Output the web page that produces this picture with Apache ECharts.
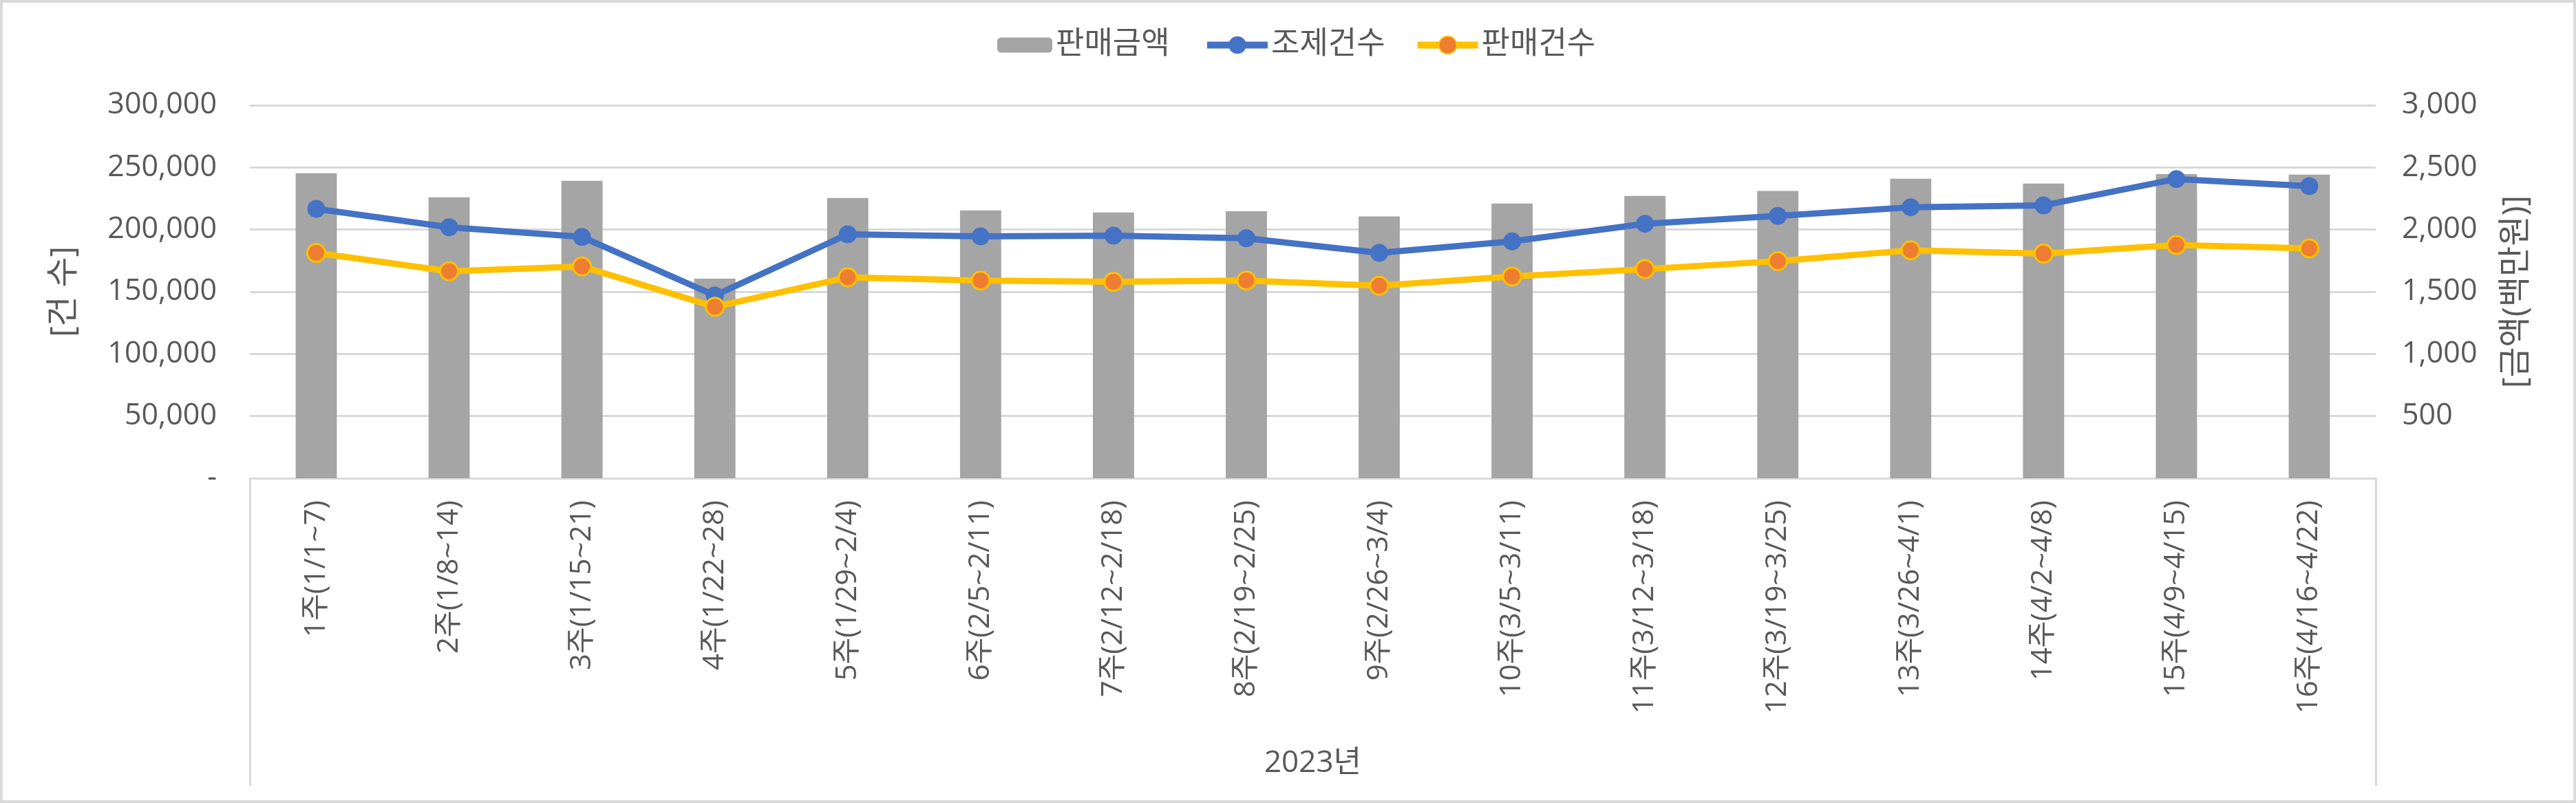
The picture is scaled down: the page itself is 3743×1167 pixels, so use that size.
<!DOCTYPE html>
<html>
<head>
<meta charset="utf-8">
<script src="https://cdn.jsdelivr.net/npm/echarts@6/dist/echarts.min.js"></script>
<style>
html,body{margin:0;padding:0;background:#fff;}
#c{width:3743px;height:1167px;box-sizing:border-box;border:4px solid #d9d9d9;}
</style>
</head>
<body>
<div id="c"></div>
<script>
const categories = ['1주(1/1~7)','2주(1/8~14)','3주(1/15~21)','4주(1/22~28)','5주(1/29~2/4)','6주(2/5~2/11)','7주(2/12~2/18)','8주(2/19~2/25)','9주(2/26~3/4)','10주(3/5~3/11)','11주(3/12~3/18)','12주(3/19~3/25)','13주(3/26~4/1)','14주(4/2~4/8)','15주(4/9~4/15)','16주(4/16~4/22)'];
const groupLabel = ['2023년'];
const salesAmount = [2454,2259,2392,1605,2254,2155,2138,2148,2106,2210,2271,2311,2409,2371,2447,2443];
const dispenseCount = [216700,201900,194100,147000,196200,194500,195100,193000,181300,190500,204700,211000,218000,219500,240700,235000];
const salesCount = [181300,166500,170300,137900,161600,159000,158000,159000,154800,162300,168200,174600,183400,180700,187700,184900];
const leftTicks = {min:0,max:300000,interval:50000};
const rightTicks = {min:0,max:3000,interval:500};

const FONT = '"Open Sans","Noto Sans CJK KR",sans-serif';
const TXT = '#595959';
const GRID = '#d9d9d9';
function fmt(v){ return v.toString().replace(/\B(?=(\d{3})+(?!\d))/g, ','); }

const legendText = {fontSize:45,color:TXT,fontFamily:FONT};
const chart = echarts.init(document.getElementById('c'));
chart.setOption({
  animation:false,
  textStyle:{fontFamily:FONT,color:TXT},
  legend:[{
    top:34, left:1440, itemWidth:80, itemHeight:22,
    textStyle:legendText,
    data:['판매금액']
  },{
    top:34, left:1740, itemWidth:88, itemHeight:32, itemGap:42,
    textStyle:legendText,
    data:[
      {name:'조제건수', lineStyle:{width:10}},
      {name:'판매건수', lineStyle:{width:10}}
    ]
  }],
  grid:{left:359,right:287,top:149,bottom:468},
  xAxis:[{
    type:'category', data:categories, position:'bottom',
    axisLine:{lineStyle:{color:GRID,width:3}},
    axisTick:{show:false},
    axisLabel:{rotate:90,fontSize:42,color:TXT,margin:32,fontFamily:FONT,interval:0}
  },{
    type:'category', data:groupLabel, position:'bottom', gridIndex:0,
    axisLine:{show:false},
    axisTick:{show:true,length:447,lineStyle:{color:GRID,width:3}},
    axisLabel:{fontSize:44,color:TXT,margin:392,fontFamily:FONT}
  }],
  yAxis:[{
    type:'value', min:leftTicks.min, max:leftTicks.max, interval:leftTicks.interval,
    axisLine:{show:false}, axisTick:{show:false},
    splitLine:{lineStyle:{color:GRID,width:3}},
    axisLabel:{fontSize:43,color:TXT,margin:48,fontFamily:FONT,formatter:v=>v===0?'-':fmt(v)},
    name:'[건 수]', nameLocation:'middle', nameGap:246, nameRotate:90,
    nameTextStyle:{fontSize:48,color:TXT,fontFamily:FONT}
  },{
    type:'value', min:rightTicks.min, max:rightTicks.max, interval:rightTicks.interval,
    position:'right',
    axisLine:{show:false}, axisTick:{show:false}, splitLine:{show:false},
    axisLabel:{fontSize:43,color:TXT,margin:38,fontFamily:FONT,formatter:v=>v===0?'':fmt(v)},
    name:'[금액(백만원)]', nameLocation:'middle', nameGap:180, nameRotate:90,
    nameTextStyle:{fontSize:48,color:TXT,fontFamily:FONT}
  }],
  series:[{
    name:'판매금액', type:'bar', yAxisIndex:1, data:salesAmount,
    barWidth:'31%', itemStyle:{color:'#a5a5a5'}
  },{
    name:'조제건수', type:'line', yAxisIndex:0, data:dispenseCount,
    lineStyle:{color:'#4472c4',width:9}, itemStyle:{color:'#4472c4'},
    symbol:'circle', symbolSize:26, z:3
  },{
    name:'판매건수', type:'line', yAxisIndex:0, data:salesCount,
    lineStyle:{color:'#ffc000',width:9}, itemStyle:{color:'#ed7d31',borderColor:'#ffc000',borderWidth:3},
    symbol:'circle', symbolSize:26, z:3
  }]
});
</script>
</body>
</html>
